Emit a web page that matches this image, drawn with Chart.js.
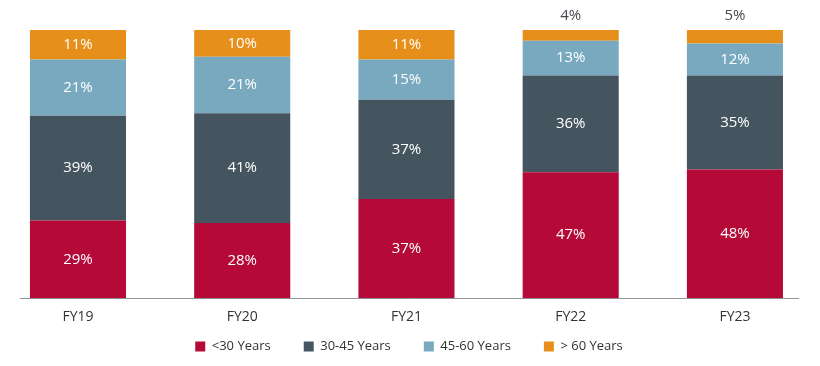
<!DOCTYPE html>
<html><head><meta charset="utf-8">
<script src="https://cdn.jsdelivr.net/npm/chart.js@4"></script>
<style>html,body{margin:0;padding:0;background:#fff}#wrap{width:820px;height:366px}</style>
</head><body><div id="wrap"><canvas id="c"></canvas></div>
<script>
const categories = ["FY19", "FY20", "FY21", "FY22", "FY23"];
const seriesNames = ["<30 Years", "30-45 Years", "45-60 Years", "> 60 Years"];
const under30 = [29, 28, 37, 47, 48];
const from30to45 = [39, 41, 37, 36, 35];
const from45to60 = [21, 21, 15, 13, 12];
const over60 = [11, 10, 11, 4, 5];
const colors = ["#B50938", "#455560", "#79A9BF", "#E78F1B"];

const FONT = "'Open Sans', 'Noto Sans', sans-serif";
const series = [under30, from30to45, from45to60, over60];
const datasets = series.map((vals, s) => ({
  label: seriesNames[s],
  data: vals.map((v, i) => ({x: i, y: v})),
  backgroundColor: colors[s],
  borderWidth: 0,
  categoryPercentage: 0.65,
  barPercentage: 0.9
}));

const LEG_PAD = 33, LEG_AREA = 27, LEG_SHIFT = 28;

const labelPlugin = {
  id: 'segLabels',
  afterInit(chart) {
    const lg = chart.legend;
    if (!lg) return;
    const orig = lg.fit.bind(lg);
    lg.fit = function () { orig(); this.height = LEG_AREA; };
  },
  afterLayout(chart) {
    const lg = chart.legend;
    if (lg) { lg.top -= LEG_SHIFT; }
  },
  afterDatasetsDraw(chart) {
    const ctx = chart.ctx;
    ctx.save();
    ctx.font = "15px " + FONT;
    ctx.textAlign = 'center';
    ctx.textBaseline = 'middle';
    chart.data.datasets.forEach((ds, di) => {
      const meta = chart.getDatasetMeta(di);
      meta.data.forEach((el, i) => {
        const v = ds.data[i].y;
        if (v >= 8) {
          ctx.fillStyle = '#ffffff';
          ctx.fillText(v + '%', el.x, (el.y + el.base) / 2);
        } else {
          ctx.fillStyle = '#444a50';
          ctx.fillText(v + '%', el.x, el.y - 14);
        }
      });
    });
    ctx.restore();
  }
};

new Chart(document.getElementById('c'), {
  type: 'bar',
  data: { datasets },
  options: {
    responsive: true,
    maintainAspectRatio: false,
    animation: false,
    layout: { padding: { top: 30, left: 20, right: 22, bottom: 4 } },
    plugins: {
      tooltip: { enabled: false },
      legend: {
        position: 'bottom',
        labels: {
          boxWidth: 10, boxHeight: 10, padding: LEG_PAD,
          color: '#333', font: { family: FONT, size: 13 }
        }
      }
    },
    scales: {
      x: {
        type: 'linear', stacked: true, offset: false,
        min: -0.353, max: 4.384,
        afterBuildTicks: (scale) => { scale.ticks = categories.map((_, i) => ({ value: i })); },
        ticks: { callback: (v) => categories[v] ?? '', color: '#333', font: { family: FONT, size: 14 }, padding: 10, maxRotation: 0, autoSkip: false },
        grid: { display: false, drawTicks: false },
        border: { display: true, color: '#8f979c', width: 1 }
      },
      y: { stacked: true, min: 0, max: 100, display: false }
    }
  },
  plugins: [labelPlugin]
});
</script></body></html>
